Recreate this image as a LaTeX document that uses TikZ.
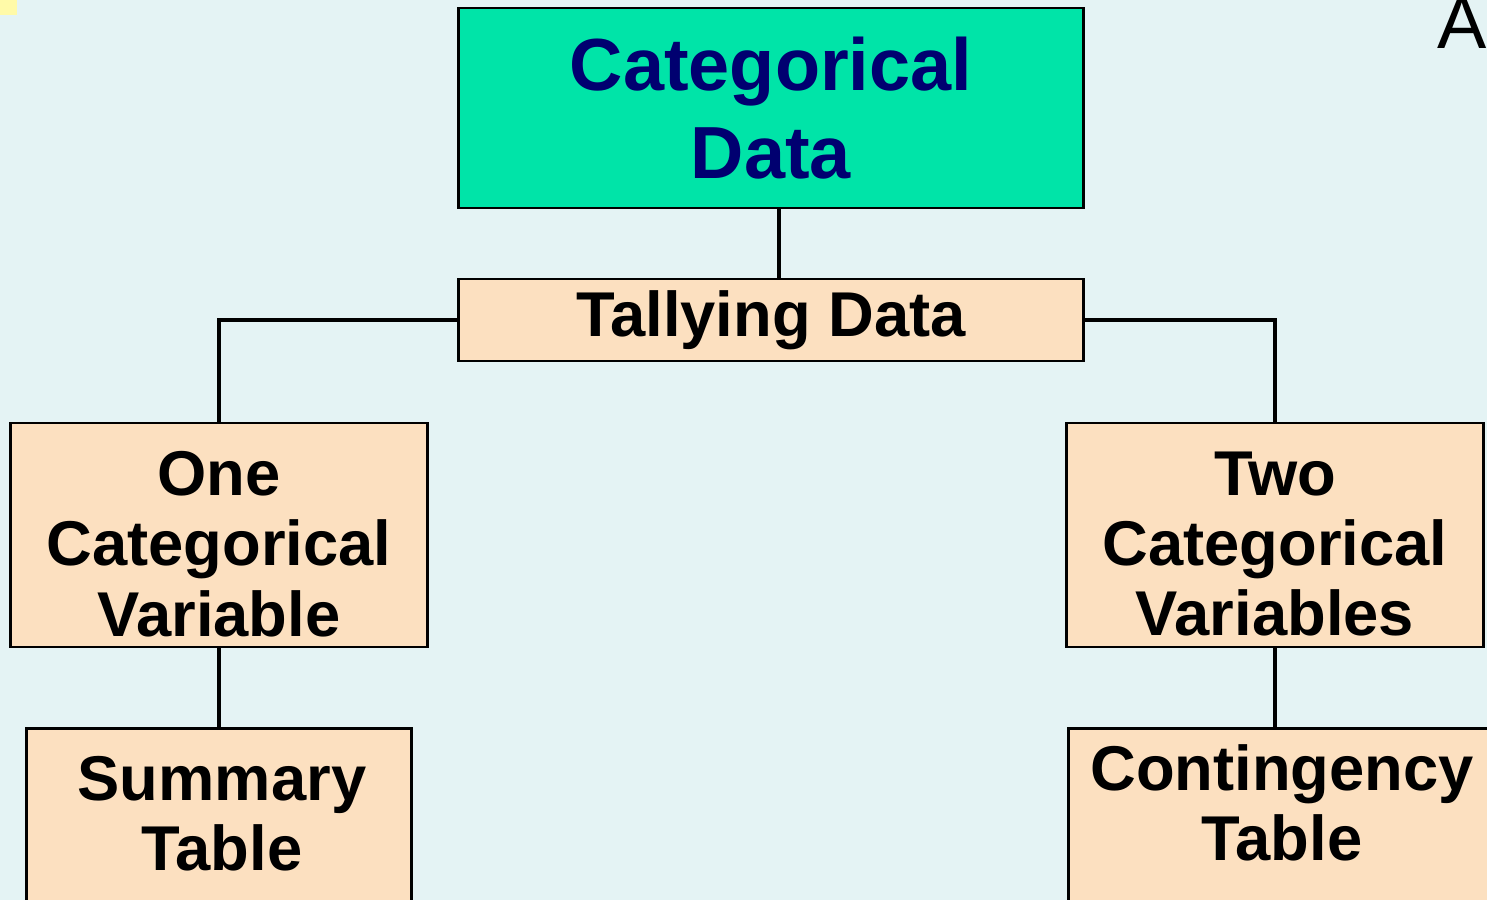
\documentclass[tikz,border=0pt]{standalone}
\usepackage{fontspec}
\setmainfont{Liberation Sans}
\usetikzlibrary{positioning}

\definecolor{bgblue}{HTML}{E4F3F4}
\definecolor{topgreen}{HTML}{00E4A8}
\definecolor{navytext}{HTML}{000070}
\definecolor{boxtan}{HTML}{FCE0C0}
\definecolor{markyellow}{HTML}{FFFAA8}

\tikzset{
  box/.style={draw=black, line width=0.8pt, fill=boxtan, align=center,
    inner sep=0pt, font=\bfseries\fontsize{18}{20}\selectfont},
  boxtext/.style={box, draw=none, fill=none},
  topbox/.style={box, fill=topgreen, text=navytext,
    font=\bfseries\fontsize{21}{25}\selectfont},
  link/.style={draw=black, line width=1pt}
}

\begin{document}
\begin{tikzpicture}[x=0.01cm, y=-0.01cm]

\def\xl{219}; % left column
\def\xm{771}; % middle column
\def\xr{1275}; % right column

\fill[bgblue] (0,0) rectangle (1487,900);
\useasboundingbox (0,0) rectangle (1487,900);
\fill[markyellow] (0,0) rectangle (17,15);

\node[font=\fontsize{21}{25}\selectfont, anchor=base west, inner sep=0pt] (corner) at (1437,48) {A};

\node[topbox, minimum width=6.24cm, minimum height=2cm] (cat) at (\xm,108) {Categorical\\Data};
\node[box, minimum width=6.24cm, minimum height=0.82cm] (tally) at (\xm,320) {Tallying Data};

\node[box, minimum width=4.16cm, minimum height=2.24cm] (one) at (\xl,535) {};
\node[boxtext] (onetext) at (\xl,544) {One\\Categorical\\Variable};
\node[box, minimum width=4.16cm, minimum height=2.24cm] (two) at (\xr,535) {};
\node[boxtext] (twotext) at (\xr,544) {Two\\Categorical\\Variables};

% boxes cut by the page edge
\node[box, minimum width=3.84cm, minimum height=3cm, anchor=north] (summary) at (\xl,727) {};
\node[boxtext] (summarytext) at (222,814) {Summary\\Table};
\node[box, minimum width=4.4cm, minimum height=3cm, anchor=north west] (contingency) at (1067,727) {};
\node[boxtext] (contingencytext) at (1282,803) {Contingency\\Table};

\draw[link] ([xshift=0.08cm]cat.south) -- ([xshift=0.08cm]tally.north);
\draw[link] (tally.west) -| (one.north);
\draw[link] (tally.east) -| (two.north);
\draw[link] (one.south) -- (summary.north);
\draw[link] (two.south) -- (two.south |- contingency.north);

\end{tikzpicture}
\end{document}
